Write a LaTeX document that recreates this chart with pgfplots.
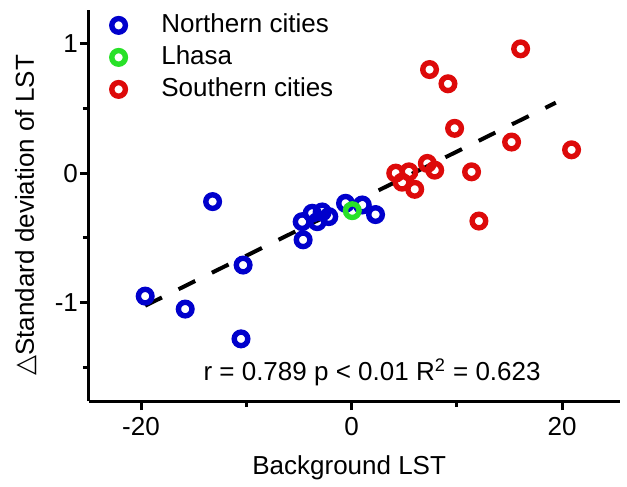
\documentclass[border=0pt]{standalone}
\usepackage{pgfplots}
\pgfplotsset{compat=1.18}
\usepackage{fontspec}
\setmainfont{Liberation Sans}
\newfontfamily\djv{DejaVu Sans}
\definecolor{nblue}{RGB}{0,0,204}
\definecolor{lgreen}{RGB}{40,225,40}
\definecolor{sred}{RGB}{221,10,10}
\begin{document}
\fontsize{13bp}{15.6bp}\selectfont
\begin{tikzpicture}
\useasboundingbox (-44.5bp,-43bp) rectangle (269bp,200.5bp);
\begin{axis}[
 scale only axis, width=265.5bp, height=195.5bp,
 xmin=-24.94, xmax=25.5, ymin=-1.76, ymax=1.26,
 axis x line*=bottom, axis y line*=left,
 axis line style={-, line width=1.5bp},
 tick style={line width=1.5bp, black},
 tick align=outside,
 major tick length=4.5bp, minor tick length=3bp,
 xtick={-20,0,20}, minor xtick={-10,10},
 ytick={-1,0,1}, minor ytick={-1.5,-0.5,0.5},
 /pgf/number format/assume math mode=true,
 font=\fontsize{13bp}{15.6bp}\selectfont,
 yticklabel style={xshift=3.5bp},
 xticklabel style={yshift=1bp},
 xlabel={Background LST},
 ylabel={{\djv △}Standard deviation of LST},
 xlabel style={at={(axis description cs:0.49,-0.171)}, anchor=center},
 ylabel style={at={(axis description cs:-0.1186,0.475)}, anchor=center},
 legend cell align=left,
 legend image code/.code={\path (0bp,0bp) (27bp,0bp); \draw[mark repeat=2,mark phase=2,#1] plot coordinates {(0bp,0bp) (8.5bp,0bp) (27bp,0bp)};},
 legend style={draw=none, fill=none, at={(axis description cs:0.0179,1)}, anchor=north west, inner sep=0pt, row sep=1bp,
   nodes={inner sep=1.5bp, text height=9.5bp, text depth=2.5bp, anchor=west}},
 clip=false,
]
\addplot[only marks, mark=o, mark size=3.4bp, nblue, line width=2.7bp] coordinates {
 (-19.6,-0.95) (-15.8,-1.05) (-13.2,-0.22) (-10.3,-0.71) (-10.5,-1.28)
 (-4.6,-0.515) (-4.69,-0.375) (-3.74,-0.31) (-2.79,-0.30) (-3.26,-0.375)
 (-2.16,-0.336) (-0.57,-0.233) (1.02,-0.246) (2.28,-0.32)
};
\addlegendentry{Northern cities}
\addplot[only marks, mark=o, mark size=3.4bp, lgreen, line width=2.7bp] coordinates {
 (0.07,-0.29)
};
\addlegendentry{Lhasa}
\addplot[only marks, mark=o, mark size=3.4bp, sred, line width=2.7bp] coordinates {
 (16.06,0.96) (7.41,0.80) (9.16,0.69) (9.79,0.346) (15.2,0.24) (20.9,0.18)
 (11.4,0.01) (12.1,-0.37) (4.2,0.0) (5.45,0.01) (4.8,-0.07) (6.0,-0.125)
 (7.2,0.075) (7.9,0.023)
};
\addlegendentry{Southern cities}
\addplot[black, line width=2bp, dash pattern=on 9.3bp off 9.3bp, forget plot] coordinates {(-19.6,-1.024) (19.4,0.544)};
\node[anchor=base] at (axis cs:1.95,-1.6) {r = 0.789 p < 0.01 R\textsuperscript{2} = 0.623};
\end{axis}
\end{tikzpicture}
\end{document}
